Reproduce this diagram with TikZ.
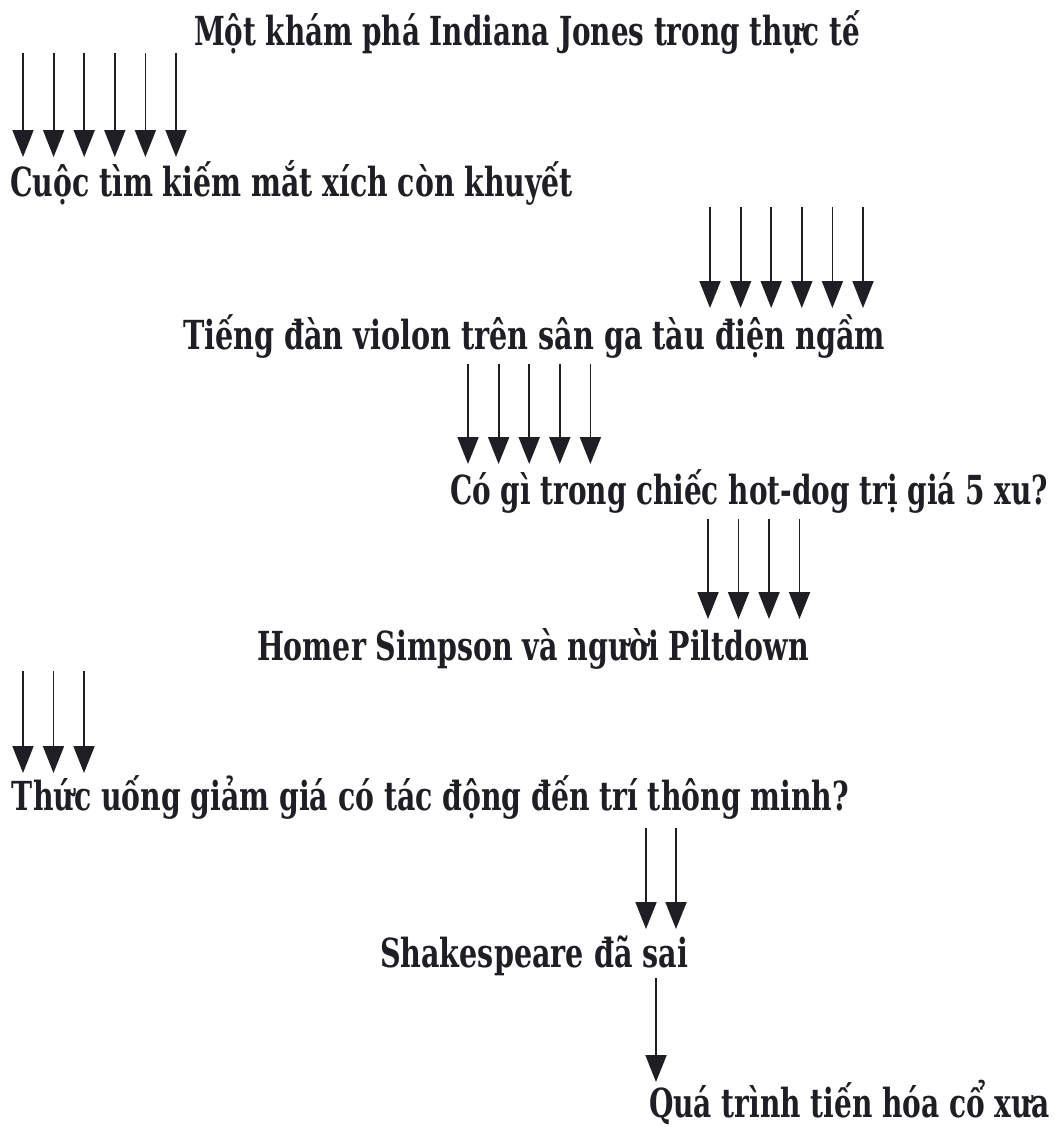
\documentclass[tikz,border=0pt]{standalone}
\usepackage{fontspec}
\setmainfont{DejaVu Serif}[FakeStretch=0.72]
\usetikzlibrary{arrows.meta}
\definecolor{ink}{HTML}{1E1E24}
\newcommand\fitto[2]{\resizebox{#1}{\height}{#2}}
\begin{document}
\begin{tikzpicture}[x=1pt,y=-1pt,
  lbl/.style={anchor=base west, inner sep=0pt, outer sep=0pt,
    font=\bfseries\fontsize{40}{42}\selectfont, text=ink},
  arr/.style={line width=1.8pt, draw=ink,
    -{Triangle[width=21pt,length=27pt]}}]
\fill[white] (0,0) rectangle (1058,1127);
\useasboundingbox (0,0) rectangle (1058,1127);

\node[lbl] (t1) at (194,45)  {\fitto{666pt}{Một khám phá Indiana Jones trong thực tế}};
\node[lbl] (t2) at (10,196)  {\fitto{563pt}{Cuộc tìm kiếm mắt xích còn khuyết}};
\node[lbl] (t3) at (183,349) {\fitto{702pt}{Tiếng đàn violon trên sân ga tàu điện ngầm}};
\node[lbl] (t4) at (450,504) {\fitto{598pt}{Có gì trong chiếc hot-dog trị giá 5 xu?}};
\node[lbl] (t5) at (257,660) {\fitto{552pt}{Homer Simpson và người Piltdown}};
\node[lbl] (t6) at (12,810)  {\fitto{837pt}{Thức uống giảm giá có tác động đến trí thông minh?}};
\node[lbl] (t7) at (380,967) {\fitto{308pt}{Shakespeare đã sai}};
\node[lbl] (t8) at (649,1117){\fitto{401pt}{Quá trình tiến hóa cổ xưa}};

% group 1
\foreach \i in {0,...,5}{
  \coordinate (a1s\i) at (23+30.6*\i,53);
  \coordinate (a1e\i) at (23+30.6*\i,157);
  \draw[arr] (a1s\i) -- (a1e\i);}
% group 2
\foreach \i in {0,...,5}{
  \coordinate (a2s\i) at (710+30.6*\i,207);
  \coordinate (a2e\i) at (710+30.6*\i,308);
  \draw[arr] (a2s\i) -- (a2e\i);}
% group 3
\foreach \i in {0,...,4}{
  \coordinate (a3s\i) at (468+30.6*\i,364);
  \coordinate (a3e\i) at (468+30.6*\i,464);
  \draw[arr] (a3s\i) -- (a3e\i);}
% group 4
\foreach \i in {0,...,3}{
  \coordinate (a4s\i) at (708+30.5*\i,519);
  \coordinate (a4e\i) at (708+30.5*\i,619);
  \draw[arr] (a4s\i) -- (a4e\i);}
% group 5
\foreach \i in {0,...,2}{
  \coordinate (a5s\i) at (23+30.5*\i,671);
  \coordinate (a5e\i) at (23+30.5*\i,773);
  \draw[arr] (a5s\i) -- (a5e\i);}
% group 6
\foreach \i in {0,...,1}{
  \coordinate (a6s\i) at (646+30*\i,828);
  \coordinate (a6e\i) at (646+30*\i,929);
  \draw[arr] (a6s\i) -- (a6e\i);}
% group 7
\coordinate (a7s0) at (656,978);
\coordinate (a7e0) at (656,1082);
\draw[arr] (a7s0) -- (a7e0);
\end{tikzpicture}
\end{document}
